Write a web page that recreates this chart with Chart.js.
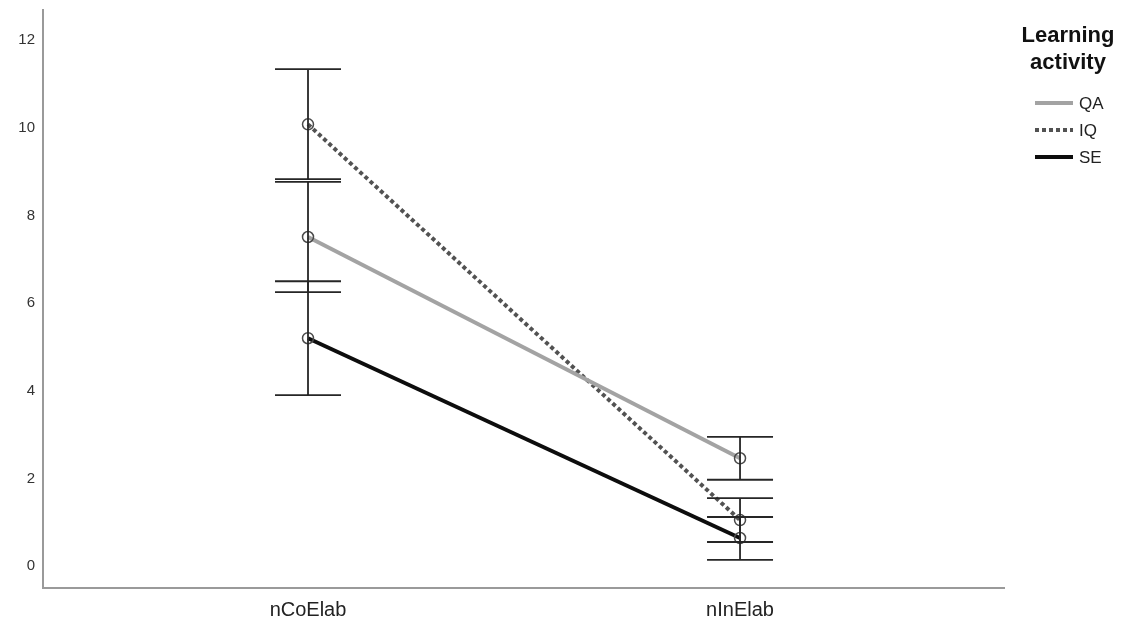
<!DOCTYPE html>
<html>
<head>
<meta charset="utf-8">
<script src="https://cdn.jsdelivr.net/npm/chart.js@4/dist/chart.umd.min.js"></script>
<style>
  html, body { margin: 0; padding: 0; background: #ffffff; }
  #wrap { width: 1136px; height: 631px; position: relative; }
</style>
</head>
<body>
<div id="wrap"><canvas id="c" width="1136" height="631"></canvas></div>
<script>
// Conditions on the x axis
const categories = ['nCoElab', 'nInElab'];
const xPositions = [1, 2];

// Y axis tick values
const yTicks = [0, 2, 4, 6, 8, 10, 12];

// Series names
const seriesNames = ['QA', 'IQ', 'SE'];

// Means and error bar limits per condition
const qaMean = [7.51, 2.46];
const qaLow  = [6.25, 1.97];
const qaHigh = [8.77, 2.95];

const iqMean = [10.08, 1.05];
const iqLow  = [8.83, 0.55];
const iqHigh = [11.34, 1.55];

const seMean = [5.20, 0.64];
const seLow  = [3.90, 0.14];
const seHigh = [6.50, 1.12];

const legendTitle = ['Learning', 'activity'];

const FONT = "'Liberation Sans', Arial, sans-serif";

function pts(means) {
  return means.map((v, i) => ({ x: xPositions[i], y: v }));
}

const styles = [
  { color: '#a3a3a3', dash: [] },
  { color: '#525252', dash: [4, 3] },
  { color: '#0d0d0d', dash: [] }
];
const meansAll = [qaMean, iqMean, seMean];
const lowAll = [qaLow, iqLow, seLow];
const highAll = [qaHigh, iqHigh, seHigh];

const datasets = seriesNames.map((name, k) => ({
  label: name,
  data: pts(meansAll[k]),
  errLow: lowAll[k],
  errHigh: highAll[k],
  borderColor: styles[k].color,
  borderWidth: 4,
  borderDash: styles[k].dash,
  pointRadius: 5.5,
  pointBorderWidth: 1.5,
  pointBorderColor: '#4a4a4a',
  pointBackgroundColor: 'rgba(0,0,0,0)',
  pointHoverRadius: 5.5,
  tension: 0,
  fill: false
}));

// Error bars: vertical whisker with horizontal caps at each limit
const errorBars = {
  id: 'errorBars',
  afterDatasetsDraw(chart) {
    const ctx = chart.ctx;
    const xs = chart.scales.x, ys = chart.scales.y;
    const capHalf = 33;
    ctx.save();
    ctx.strokeStyle = '#262626';
    ctx.lineWidth = 1.8;
    ctx.setLineDash([]);
    chart.data.datasets.forEach(ds => {
      ds.data.forEach((p, i) => {
        const x = xs.getPixelForValue(p.x);
        const yl = ys.getPixelForValue(ds.errLow[i]);
        const yh = ys.getPixelForValue(ds.errHigh[i]);
        ctx.beginPath();
        ctx.moveTo(x, yl); ctx.lineTo(x, yh);
        ctx.moveTo(x - capHalf, yl); ctx.lineTo(x + capHalf, yl);
        ctx.moveTo(x - capHalf, yh); ctx.lineTo(x + capHalf, yh);
        ctx.stroke();
      });
    });
    ctx.restore();
  }
};

// Legend with a two-line bold title and line samples
const sideLegend = {
  id: 'sideLegend',
  afterDraw(chart) {
    const ctx = chart.ctx;
    ctx.save();
    ctx.fillStyle = '#111111';
    ctx.textAlign = 'center';
    ctx.textBaseline = 'middle';
    ctx.font = 'bold 22px ' + FONT;
    legendTitle.forEach((t, i) => ctx.fillText(t, 1068, 36 + i * 27));
    ctx.font = '17px ' + FONT;
    ctx.textAlign = 'left';
    chart.data.datasets.forEach((ds, i) => {
      const y = 103 + i * 27;
      ctx.beginPath();
      ctx.strokeStyle = ds.borderColor;
      ctx.lineWidth = 4;
      ctx.setLineDash(ds.borderDash || []);
      ctx.moveTo(1035, y);
      ctx.lineTo(1073, y);
      ctx.stroke();
      ctx.setLineDash([]);
      ctx.fillStyle = '#222222';
      ctx.fillText(ds.label, 1079, y + 1);
    });
    ctx.restore();
  }
};

new Chart(document.getElementById('c'), {
  type: 'line',
  data: { datasets },
  options: {
    responsive: false,
    animation: false,
    events: [],
    layout: { padding: { left: 0, top: 10, right: 132, bottom: 0 } },
    plugins: { legend: { display: false }, tooltip: { enabled: false } },
    scales: {
      x: {
        type: 'linear',
        min: 0.3866,
        max: 2.611,
        afterBuildTicks(scale) { scale.ticks = xPositions.map(v => ({ value: v })); },
        afterFit(scale) { scale.height = 43; scale.paddingLeft = 0; scale.paddingRight = 0; },
        ticks: {
          callback: v => categories[xPositions.indexOf(v)],
          font: { family: FONT, size: 20 },
          color: '#222222',
          padding: 10,
          maxRotation: 0,
          autoSkip: false
        },
        grid: { display: false, drawTicks: false },
        border: { display: true, color: '#9a9a9a', width: 2 }
      },
      y: {
        type: 'linear',
        min: -0.5,
        max: 12.69,
        afterBuildTicks(scale) { scale.ticks = yTicks.map(v => ({ value: v })); },
        afterFit(scale) { scale.width = 43; scale.paddingTop = 0; scale.paddingBottom = 0; },
        ticks: {
          font: { family: FONT, size: 15 },
          color: '#333333',
          padding: 8
        },
        grid: { display: false, drawTicks: false },
        border: { display: true, color: '#9a9a9a', width: 2 }
      }
    }
  },
  plugins: [errorBars, sideLegend]
});
</script>
</body>
</html>
